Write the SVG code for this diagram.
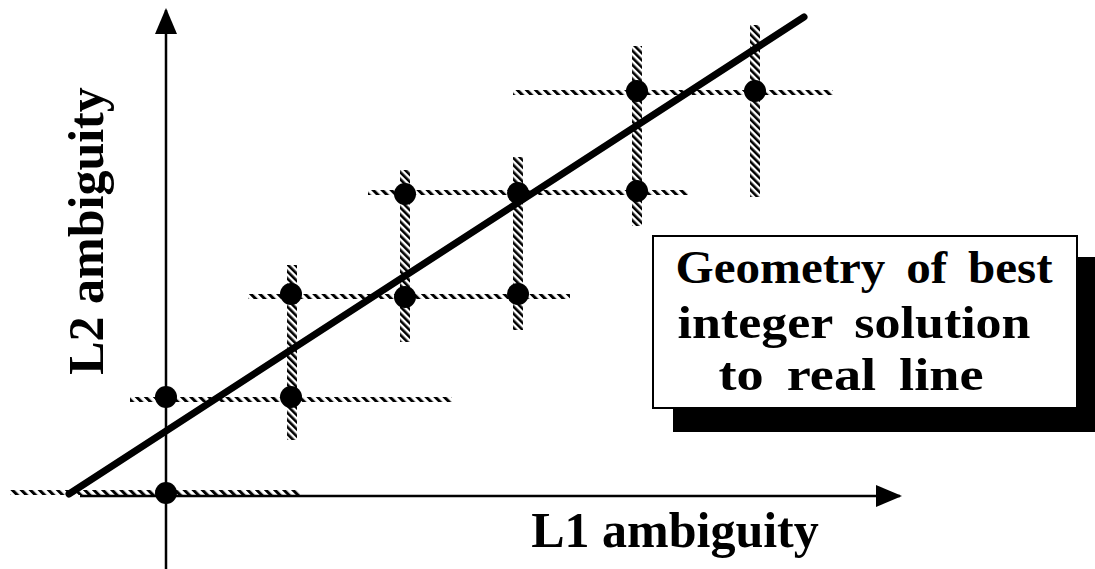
<svg xmlns="http://www.w3.org/2000/svg" width="1095" height="569" viewBox="0 0 1095 569">
<style>
.axis{stroke:#000;stroke-width:2.5;fill:none}
.main{stroke:#000;stroke-width:7;stroke-linecap:round}
.dot{fill:#000}
.lbl{font-family:"Liberation Serif","Times New Roman",serif;font-weight:bold;font-size:50px;fill:#000}
.box{font-family:"Liberation Serif","Times New Roman",serif;font-weight:bold;font-size:46px;word-spacing:8px;fill:#000;text-anchor:middle}
.hh{fill:url(#hatchH)}
.hv{fill:url(#hatchV)}
</style>
<defs>
<pattern id="hatchH" patternUnits="userSpaceOnUse" width="6.4" height="6.4" patternTransform="rotate(-45)">
<rect x="0" y="0" width="3" height="6.4" fill="#000"/>
</pattern>
<pattern id="hatchV" patternUnits="userSpaceOnUse" width="5" height="5" patternTransform="rotate(-45)">
<rect x="0" y="0" width="2.6" height="5" fill="#000"/>
</pattern>
<marker id="arr" markerWidth="26" markerHeight="22" refX="24" refY="11" orient="auto" markerUnits="userSpaceOnUse">
<path d="M0,0 L26,11 L0,22 Z" fill="#000"/>
</marker>
</defs>

<g id="grid">
<rect class="hh" x="10" y="490" width="290" height="5"/>
<rect class="hh" x="130" y="397" width="322" height="5"/>
<rect class="hh" x="248" y="294" width="322" height="5"/>
<rect class="hh" x="368" y="190" width="320" height="5"/>
<rect class="hh" x="513" y="90" width="320" height="5"/>
<rect class="hv" x="287" y="265" width="10" height="175"/>
<rect class="hv" x="400" y="170" width="10" height="172"/>
<rect class="hv" x="513" y="157" width="10" height="173"/>
<rect class="hv" x="632" y="46" width="10" height="180"/>
<rect class="hv" x="750" y="25" width="10" height="172"/>
</g>

<g id="connectors">
<line class="axis" x1="166" y1="569" x2="166" y2="10" marker-end="url(#arr)"/>
<line class="axis" x1="80" y1="496" x2="900" y2="496" marker-end="url(#arr)"/>
<line class="main" x1="69" y1="494" x2="804" y2="17"/>
</g>

<g id="points">
<circle class="dot" cx="166" cy="493" r="11"/>
<circle class="dot" cx="166" cy="397" r="11"/>
<circle class="dot" cx="291" cy="397" r="11"/>
<circle class="dot" cx="291" cy="294" r="11"/>
<circle class="dot" cx="405" cy="297" r="11"/>
<circle class="dot" cx="518" cy="294" r="11"/>
<circle class="dot" cx="405" cy="194" r="11"/>
<circle class="dot" cx="518" cy="193" r="11"/>
<circle class="dot" cx="637" cy="191" r="11"/>
<circle class="dot" cx="637" cy="91" r="11"/>
<circle class="dot" cx="755" cy="91" r="11"/>
</g>

<g id="yLabel">
<text class="lbl" text-anchor="middle" transform="translate(103,231) rotate(-90)">L2 ambiguity</text>
</g>
<g id="xLabel">
<text class="lbl" x="675" y="547" text-anchor="middle">L1 ambiguity</text>
</g>

<g id="titleBox">
<rect x="673" y="257" width="430" height="175" fill="#000"/>
<rect x="653" y="236" width="424" height="172" fill="#fff" stroke="#000" stroke-width="2"/>
<text class="box" x="864" y="283" textLength="377" lengthAdjust="spacingAndGlyphs">Geometry of best</text>
<text class="box" x="854" y="338" textLength="353" lengthAdjust="spacingAndGlyphs">integer solution</text>
<text class="box" x="851" y="390" textLength="265" lengthAdjust="spacingAndGlyphs">to real line</text>
</g>
</svg>
